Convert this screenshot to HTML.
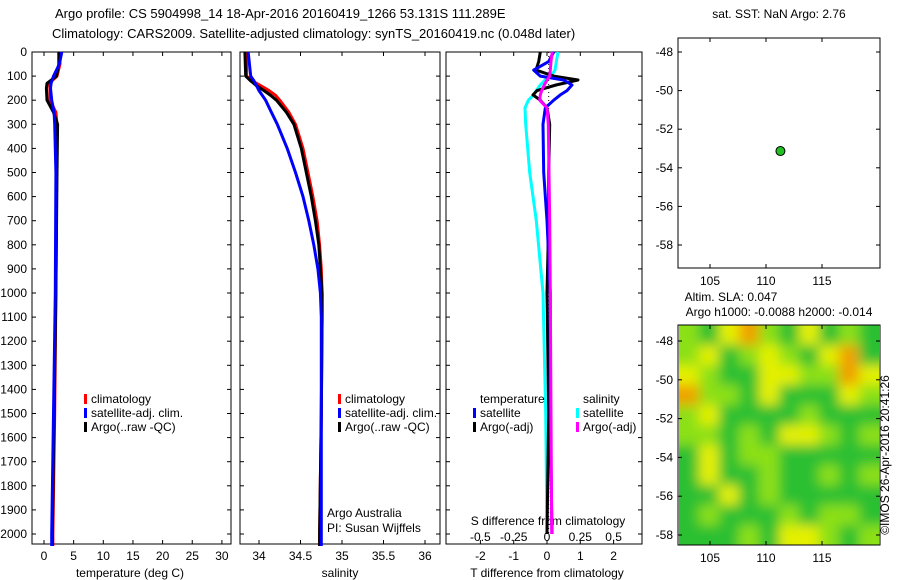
<!DOCTYPE html>
<html><head><meta charset="utf-8">
<style>
body{margin:0;background:#fff;}
svg{display:block;font-family:"Liberation Sans",sans-serif;}
text{font-size:12px;fill:#000;}
</style></head>
<body>
<svg id="c" width="900" height="580">
<defs><filter id="bl" x="-0.1" y="-0.1" width="1.2" height="1.2"><feGaussianBlur stdDeviation="6"/></filter>
<clipPath id="hmclip"><rect x="679" y="325" width="200" height="220"/></clipPath></defs>
<text x="55" y="18" style="font-size:13px">Argo profile: CS 5904998_14 18-Apr-2016 20160419_1266 53.131S 111.289E</text>
<text x="52" y="38" style="font-size:13px">Climatology: CARS2009. Satellite-adjusted climatology: synTS_20160419.nc (0.048d later)</text>
<text x="779" y="18" text-anchor="middle">sat. SST: NaN Argo: 2.76</text>
<text x="731" y="301" text-anchor="middle">Altim. SLA: 0.047</text>
<text x="779" y="316" text-anchor="middle">Argo h1000: -0.0088 h2000: -0.014</text>
<text transform="translate(889,455) rotate(-90)" text-anchor="middle">©IMOS 26-Apr-2016 20:41:26</text>
<g id="g"></g>
</svg>
<script>
// ---- data ----
const depthTicks=[0,100,200,300,400,500,600,700,800,900,1000,1100,1200,1300,1400,1500,1600,1700,1800,1900,2000];
const tTicks=[0,5,10,15,20,25,30];
const sTicks=[34,34.5,35,35.5,36];
const dTTicks=[-2,-1,0,1,2];
const dSTicks=[-0.5,-0.25,0,0.25,0.5];
const tDepth=[0,50,100,130,150,200,250,300,500,1000,1500,2000,2050];
const tClim=[2.6,2.7,2.2,0.9,1.0,1.0,2.0,2.2,2.1,2.0,1.8,1.5,1.5];
const tArgo=[2.5,2.5,2.1,0.5,0.4,0.5,1.6,2.3,2.2,2.0,1.7,1.4,1.4];
const tSat=[3.0,2.6,1.6,1.2,1.1,1.3,1.7,1.8,2.0,1.9,1.6,1.3,1.3];
const sDepth=[0,100,120,140,160,180,200,250,300,400,500,600,700,800,900,1000,1100,1500,2000,2050];
const sClim=[33.85,33.85,33.92,34.02,34.12,34.2,34.25,34.36,34.44,34.53,34.59,34.65,34.7,34.73,34.75,34.76,34.76,34.75,34.73,34.73];
const sArgo=[33.83,33.84,33.9,33.97,34.06,34.14,34.21,34.33,34.42,34.51,34.57,34.63,34.68,34.72,34.74,34.76,34.76,34.75,34.73,34.73];
const sSat=[33.87,33.9,33.94,33.97,34.0,34.04,34.08,34.15,34.22,34.34,34.44,34.53,34.6,34.66,34.71,34.74,34.75,34.75,34.75,34.75];
const dDepth=[0,40,75,100,116,137,160,178,200,232,300,500,700,1000,1500,2000];
const dTArgo=[-0.2,-0.25,-0.33,0.2,0.93,0.27,-0.3,-0.42,-0.2,0.0,0.08,0.05,0.05,0.0,0.05,0.0];
const dTSat=[0.2,0.05,-0.4,-0.2,0.5,0.75,0.6,0.4,0.2,-0.05,-0.12,-0.1,0.0,0.1,0.1,0.15];
const dSArgo=[0.04,0.03,0.025,0.02,0.0,-0.02,-0.04,-0.05,-0.055,0.0,0.01,0.015,0.02,0.025,0.03,0.035];
const dSSat=[0.083,0.07,0.06,0.03,-0.015,-0.05,-0.08,-0.1,-0.14,-0.165,-0.16,-0.13,-0.08,-0.03,-0.01,0.0];
const latTicks=[-48,-50,-52,-54,-56,-58];
const lonTicks=[105,110,115];
const argoLon=[111.289], argoLat=[-53.131];
const slaGrid=[
[2,1,3,4,2,1,3,1,2,1],
[2,3,1,2,3,2,1,3,4,1],
[3,2,1,1,3,3,2,2,4,3],
[4,2,2,1,3,1,1,1,3,2],
[2,3,1,1,1,1,2,1,1,1],
[2,2,1,2,1,3,3,2,1,2],
[1,3,1,2,2,1,1,1,1,1],
[1,3,1,1,2,1,1,2,1,2],
[1,1,3,1,2,1,1,1,1,1],
[1,2,1,1,1,2,1,2,2,1],
[1,1,1,2,1,3,3,2,1,2]];
const slaColors=["#10a050","#2cc030","#8ce018","#e4f000","#f0a000"];
// ---- helpers ----
const NS="http://www.w3.org/2000/svg";
const G=document.getElementById('g');
function mk(tag,at,parent){const e=document.createElementNS(NS,tag);for(const k in at)e.setAttribute(k,at[k]);(parent||G).appendChild(e);return e;}
const yD=d=>52+d*0.241;
const xT=t=>44+t*5.93;
const xS=s=>259+(s-34)*83;
const xdT=v=>547+v*33.3;
const xdS=v=>547+v*133.2;
const yLat=l=>52+(-48-l)*19.3;
const xLon=l=>710+(l-105)*11.2;
const yLat2=l=>341+(-48-l)*19.4;
function line(xs,ys,col,w,name,dash){const p=xs.map((x,i)=>x.toFixed(1)+','+ys[i].toFixed(1)).join(' ');
 const e=mk('polyline',{points:p,fill:'none',stroke:col,'stroke-width':w,'stroke-linejoin':'round'});if(dash)e.setAttribute('stroke-dasharray',dash);
 
 }
function txt(x,y,s,name,anchor){const e=mk('text',{x:x,y:y,'text-anchor':anchor||'start'});e.textContent=s;
 
 }
function box(x0,x1,y0,y1,name){const e=mk('rect',{x:x0,y:y0,width:x1-x0,height:y1-y0,fill:'none',stroke:'#000','stroke-width':1});
 
 }
function tick(x1,y1,x2,y2){mk('line',{x1:x1,y1:y1,x2:x2,y2:y2,stroke:'#000','stroke-width':1});}
// ---- profile panels ----
const panels=[[32,231],[240,440],[446,642]];
panels.forEach((p,i)=>{box(p[0],p[1],52,544,'profile-panel-'+(i+1));
 depthTicks.forEach(d=>{tick(p[0],yD(d),p[0]+4,yD(d));tick(p[1],yD(d),p[1]-4,yD(d));});});
depthTicks.forEach(d=>txt(27,yD(d)+4,String(d),'depth-tick-label','end'));
tTicks.forEach(t=>{tick(xT(t),544,xT(t),540);tick(xT(t),52,xT(t),56);txt(xT(t),560,String(t),'temp-tick-label','middle');});
sTicks.forEach(s=>{tick(xS(s),544,xS(s),540);tick(xS(s),52,xS(s),56);txt(xS(s),560,String(s),'sal-tick-label','middle');});
dTTicks.forEach(v=>{tick(xdT(v),544,xdT(v),540);tick(xdT(v),52,xdT(v),56);txt(xdT(v),560,String(v),'dt-tick-label','middle');});
dSTicks.forEach(v=>txt(xdS(v),541,String(v),'ds-tick-label','middle'));
txt(130,577,'temperature (deg C)','temp-axis-title','middle');
txt(340,577,'salinity','sal-axis-title','middle');
txt(547,577,'T difference from climatology','dt-axis-title','middle');
txt(548,525,'S difference from climatology','ds-axis-title','middle');
// series
const yT=tDepth.map(yD), yS=sDepth.map(yD), yDd=dDepth.map(yD);
line(tClim.map(xT),yT,'#f00',3,'temp-climatology-line');
line(tArgo.map(xT),yT,'#000',3,'temp-argo-line');
line(tSat.map(xT),yT,'#00f',3,'temp-satellite-line');
line(sClim.map(xS),yS,'#f00',3,'sal-climatology-line');
line(sArgo.map(xS),yS,'#000',3,'sal-argo-line');
line(sSat.map(xS),yS,'#00f',3,'sal-satellite-line');
line(dDepth.map(()=>xdT(0.05)),yDd,'#000',1,'raw-dotted-line','1 3');
line(dSSat.map(xdS),yDd,'#00ffff',3,'ds-satellite-line');
line(dTArgo.map(xdT),yDd,'#000',3,'dt-argo-line');
line(dTSat.map(xdT),yDd,'#00f',3,'dt-satellite-line');
line(dSArgo.map(xdS),yDd,'#f0f',3,'ds-argo-line');
// legends
function leg(x,y,col,s,name){const r=mk('rect',{x:x,y:y-9,width:3,height:10,fill:col});
 
 
 txt(x+7,y,s,name);}
[[84,'climatology'],[84,'satellite-adj. clim.'],[84,'Argo(..raw -QC)']].forEach((a,i)=>leg(a[0],403+i*14,['#f00','#00f','#000'][i],a[1],'legend-temp-'+i));
[[338,'climatology'],[338,'satellite-adj. clim.'],[338,'Argo(..raw -QC)']].forEach((a,i)=>leg(a[0],403+i*14,['#f00','#00f','#000'][i],a[1],'legend-sal-'+i));
txt(480,403,'temperature','legend-dt-header');
txt(583,403,'salinity','legend-ds-header');
leg(473,417,'#00f','satellite','legend-dt-satellite');
leg(473,431,'#000','Argo(-adj)','legend-dt-argo');
leg(576,417,'#00ffff','satellite','legend-ds-satellite');
leg(576,431,'#f0f','Argo(-adj)','legend-ds-argo');
txt(327,517,'Argo Australia','argo-australia-label');
txt(327,532,'PI: Susan Wijffels','pi-label');
// ---- location map ----
box(678,880,38,268,'location-map');
latTicks.forEach(l=>{tick(678,yLat(l),682,yLat(l));tick(880,yLat(l),876,yLat(l));txt(673,yLat(l)+4,String(l),'map-lat-label','end');});
lonTicks.forEach(l=>{tick(xLon(l),268,xLon(l),264);tick(xLon(l),38,xLon(l),42);txt(xLon(l),285,String(l),'map-lon-label','middle');});
argoLon.forEach((lo,i)=>{const c=mk('circle',{cx:xLon(lo),cy:yLat(argoLat[i]),r:4.5,fill:'#22c022',stroke:'#000','stroke-width':1});
 
 });
// ---- SLA heatmap ----
const hg=mk('g',{'clip-path':'url(#hmclip)'});
const hi=mk('g',{filter:'url(#bl)'},hg);
const nr=slaGrid.length,nc=slaGrid[0].length,cw=200/nc,ch=220/nr;
slaGrid.forEach((row,r)=>row.forEach((v,c)=>{
 const x0=c===0?659:679+c*cw, x1=c===nc-1?899:679+(c+1)*cw;
 const y0=r===0?305:325+r*ch, y1=r===nr-1?565:325+(r+1)*ch;
 const e=mk('rect',{x:x0,y:y0,width:x1-x0+0.5,height:y1-y0+0.5,fill:slaColors[v]},hi);
 
 }));
box(678,880,325,545,'sla-map');
latTicks.forEach(l=>{tick(678,yLat2(l),682,yLat2(l));tick(880,yLat2(l),876,yLat2(l));txt(673,yLat2(l)+4,String(l),'sla-lat-label','end');});
lonTicks.forEach(l=>{tick(xLon(l),545,xLon(l),541);tick(xLon(l),325,xLon(l),329);txt(xLon(l),562,String(l),'sla-lon-label','middle');});
</script>
</body></html>
